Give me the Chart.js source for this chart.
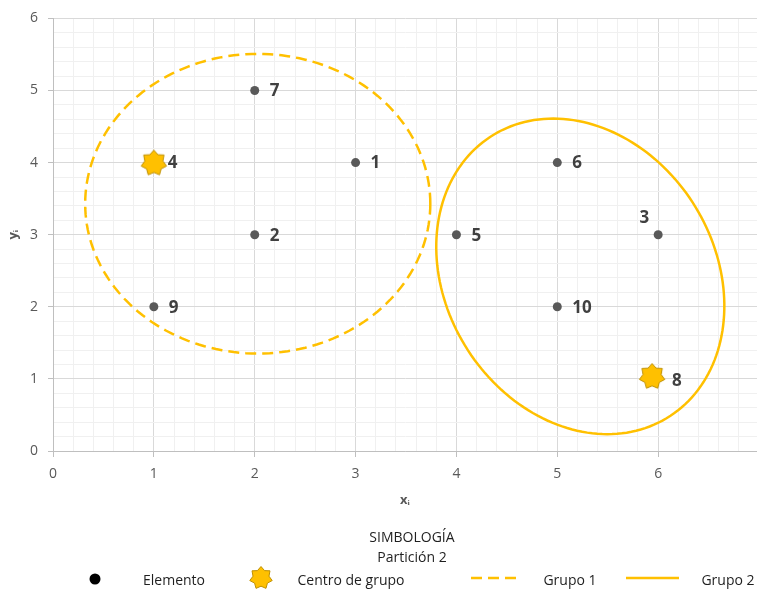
<!DOCTYPE html>
<html>
<head>
<meta charset="utf-8">
<script src="https://cdn.jsdelivr.net/npm/chart.js@4"></script>
<style>
  html, body { margin: 0; padding: 0; background: #fff; }
  #wrap { width: 757px; height: 593px; }
</style>
</head>
<body>
<div id="wrap"><canvas id="myChart"></canvas></div>
<script>
// elements (black dots)
const elementIds = ["1", "2", "3", "5", "6", "7", "9", "10"];
const elementX = [3, 2, 6, 4, 5, 2, 1, 5];
const elementY = [4, 3, 3, 3, 4, 5, 2, 2];
// group centres (stars)
const centerIds = ["4", "8"];
const centerX = [1, 5.94];
const centerY = [4, 1.04];
// axis labels
const xTicks = [0, 1, 2, 3, 4, 5, 6];
const yTicks = [0, 1, 2, 3, 4, 5, 6];
// group outlines: centre x, centre y, first half-axis (dx, dy), second half-axis (dx, dy), in data units
const group1Ellipse = [2.03, 3.43, 1.711, 0, 0, 2.078];
const group2Ellipse = [5.228, 2.422, 0.855, -1.968, -1.144, -0.958];

const gold = "#FFC000";

function drawStar(c, x, y, rOut, rIn) {
  c.beginPath();
  for (let i = 0; i < 14; i++) {
    const r = i % 2 === 0 ? rOut : rIn;
    const a = -Math.PI / 2 + (i * Math.PI) / 7;
    const px = x + r * Math.cos(a);
    const py = y + r * Math.sin(a);
    if (i === 0) c.moveTo(px, py); else c.lineTo(px, py);
  }
  c.closePath();
  c.fillStyle = gold;
  c.fill();
  c.lineWidth = 1;
  c.strokeStyle = "#BF9000";
  c.stroke();
}

const starImg = document.createElement("canvas");
starImg.width = 30;
starImg.height = 30;
drawStar(starImg.getContext("2d"), 15, 15.5, 13, 9.3);

function minorTicks(max) {
  const t = [];
  for (let i = 0; i <= Math.floor(max * 5 + 1e-6); i++) t.push({ value: i / 5 });
  return t;
}

const labelOffsets = { "3": [-9, -17, "right"], "4": [14, 1, "left"], "8": [20, 5, "left"] };

const ellipsePlugin = {
  id: "groups",
  beforeDatasetsDraw(chart) {
    const c = chart.ctx;
    const xs = chart.scales.x, ys = chart.scales.y;
    const drawEllipse = (e, dash) => {
      c.save();
      c.beginPath();
      for (let i = 0; i <= 180; i++) {
        const t = (i / 180) * Math.PI * 2;
        const dx = e[0] + e[2] * Math.cos(t) + e[4] * Math.sin(t);
        const dy = e[1] + e[3] * Math.cos(t) + e[5] * Math.sin(t);
        const px = xs.getPixelForValue(dx), py = ys.getPixelForValue(dy);
        if (i === 0) c.moveTo(px, py); else c.lineTo(px, py);
      }
      c.closePath();
      c.setLineDash(dash);
      c.lineWidth = 2.5;
      c.strokeStyle = gold;
      c.stroke();
      c.restore();
    };
    drawEllipse(group1Ellipse, [11, 6]);
    drawEllipse(group2Ellipse, []);
  },
  afterDatasetsDraw(chart) {
    const c = chart.ctx;
    c.save();
    c.font = 'bold 17px "Open Sans"';
    c.fillStyle = "#404040";
    c.textBaseline = "middle";
    chart.data.datasets.forEach((ds, di) => {
      chart.getDatasetMeta(di).data.forEach((pt, i) => {
        const id = ds.ids[i];
        const o = labelOffsets[id] || [15, 1, "left"];
        c.textAlign = o[2];
        c.fillText(id, pt.x + o[0], pt.y + o[1]);
      });
    });
    c.restore();
  },
  afterDraw(chart) {
    const c = chart.ctx;
    c.save();
    c.fillStyle = "#1F1F1F";
    c.font = '14px "Open Sans"';
    c.textAlign = "center";
    c.textBaseline = "middle";
    c.fillText("SIMBOLOGÍA", 412, 538);
    c.fillText("Partición 2", 412, 558);
    const rowY = 581;
    c.beginPath();
    c.arc(95, rowY - 2, 5.5, 0, Math.PI * 2);
    c.fillStyle = "#000";
    c.fill();
    drawStar(c, 261, rowY - 3, 11.5, 8.2);
    c.strokeStyle = gold;
    c.lineWidth = 2.5;
    c.setLineDash([11, 6]);
    c.beginPath();
    c.moveTo(471, rowY - 3);
    c.lineTo(517, rowY - 3);
    c.stroke();
    c.setLineDash([]);
    c.beginPath();
    c.moveTo(626, rowY - 3);
    c.lineTo(679, rowY - 3);
    c.stroke();
    c.fillStyle = "#1F1F1F";
    c.fillText("Elemento", 174, rowY);
    c.fillText("Centro de grupo", 351, rowY);
    c.fillText("Grupo 1", 570, rowY);
    c.fillText("Grupo 2", 728, rowY);
    c.restore();
  }
};

const gridColor = (ctx) =>
  ctx.tick && Number.isInteger(ctx.tick.value) ? "#D9D9D9" : "#F0F0F0";
const tickColor = (ctx) =>
  ctx.tick && Number.isInteger(ctx.tick.value) ? "#BFBFBF" : "rgba(0,0,0,0)";

const ctx = document.getElementById("myChart").getContext("2d");
const chart = new Chart(ctx, {
  type: "scatter",
  data: {
    datasets: [
      {
        label: "Elemento",
        ids: elementIds,
        data: elementX.map((x, i) => ({ x: x, y: elementY[i] })),
        pointStyle: "circle",
        pointRadius: 4.5,
        pointBorderWidth: 0,
        backgroundColor: "#595959",
      },
      {
        label: "Centro de grupo",
        ids: centerIds,
        data: centerX.map((x, i) => ({ x: x, y: centerY[i] })),
        pointStyle: starImg,
        pointRadius: 13,
      },
    ],
  },
  options: {
    responsive: true,
    maintainAspectRatio: false,
    animation: false,
    layout: { autoPadding: false, padding: { top: 15, left: 0, right: 0, bottom: 82 } },
    plugins: {
      legend: { display: false },
      tooltip: { enabled: false },
    },
    scales: {
      x: {
        type: "linear",
        min: 0,
        max: 6.98,
        afterBuildTicks: (axis) => { axis.ticks = minorTicks(6.98); },
        afterFit: (axis) => {
          axis.height = 60;
          axis.paddingLeft = 0;
          axis.paddingRight = 0;
        },
        grid: { color: gridColor, tickColor: tickColor, tickLength: 6 },
        border: { color: "#BFBFBF" },
        ticks: {
          autoSkip: false,
          maxRotation: 0,
          padding: 9,
          color: "#595959",
          font: { family: "Open Sans", size: 14 },
          callback: (v) => (xTicks.includes(v) ? String(v) : ""),
        },
        title: {
          display: true,
          text: "xᵢ",
          color: "#595959",
          font: { family: "Open Sans", size: 13, weight: "bold" },
          padding: { top: 0, bottom: 3 },
        },
      },
      y: {
        type: "linear",
        min: 0,
        max: 6,
        afterBuildTicks: (axis) => { axis.ticks = minorTicks(6); },
        afterFit: (axis) => { axis.width = 53; },
        grid: { color: gridColor, tickColor: tickColor, tickLength: 5 },
        border: { color: "#BFBFBF" },
        ticks: {
          autoSkip: false,
          padding: 10,
          color: "#595959",
          font: { family: "Open Sans", size: 14 },
          callback: (v) => (yTicks.includes(v) ? String(v) : ""),
        },
        title: {
          display: true,
          text: "yᵢ",
          color: "#595959",
          font: { family: "Open Sans", size: 13, weight: "bold" },
          padding: { top: 5, bottom: 0 },
        },
      },
    },
  },
  plugins: [ellipsePlugin],
});
</script>
</body>
</html>
